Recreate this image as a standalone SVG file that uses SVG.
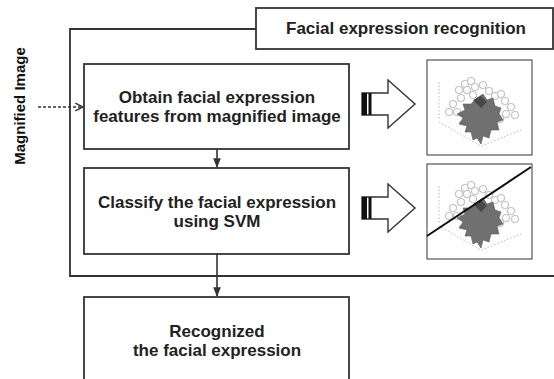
<svg xmlns="http://www.w3.org/2000/svg" width="554" height="379" viewBox="0 0 554 379">
  <style>
    .box { fill: #fff; stroke: #333; stroke-width: 1.8; }
    .frame { fill: none; stroke: #333; stroke-width: 1.8; }
    .lbl { font-family: "Liberation Sans", Arial, sans-serif; font-weight: bold; font-size: 17px; fill: #222; text-anchor: middle; }
    .conn { stroke: #333; stroke-width: 1.6; fill: none; }
    .plot { fill: #fff; stroke: #555; stroke-width: 1.2; }
    .ring { fill: #fff; stroke: #c4c4c4; stroke-width: 1.2; }
    .blob { fill: #707070; stroke: #5a5a5a; stroke-width: 0.6; }
    .tick { stroke: #bbb; stroke-width: 1; stroke-dasharray: 1.5 2; fill: none; }
    .fat { fill: #fff; stroke: #333; stroke-width: 1.4; }
  </style>
  <defs>
    <marker id="tri" viewBox="0 0 10 10" refX="9" refY="5" markerWidth="6" markerHeight="6" orient="auto">
      <path d="M0,1 L10,5 L0,9 Z" fill="#333"/>
    </marker>
    <marker id="open" viewBox="0 0 10 10" refX="9" refY="5" markerWidth="6" markerHeight="6" orient="auto">
      <path d="M1,1 L9,5 L1,9" fill="none" stroke="#333" stroke-width="1.5"/>
    </marker>
    <!-- hollow block arrow with striped tail -->
    <g id="bigArrow">
      <path class="fat" d="M0,-11 L26,-11 L26,-24 L53,0 L26,24 L26,11 L0,11 Z"/>
      <rect x="0" y="-11" width="5" height="22" fill="#111"/>
      <rect x="6.5" y="-11" width="3" height="22" fill="#111"/>
    </g>
    <!-- 3D scatter thumbnail -->
    <g id="scatter">
      <rect class="plot" x="0" y="0" width="105" height="95"/>
      <path class="tick" d="M12,22 L12,60 M12,62 L54,86 M54,86 L94,70"/>
      <g>
        <circle class="ring" cx="32" cy="30" r="3.5"/>
        <circle class="ring" cx="38" cy="24" r="3.5"/>
        <circle class="ring" cx="44" cy="21" r="3.5"/>
        <circle class="ring" cx="40" cy="30" r="3.5"/>
        <circle class="ring" cx="48" cy="27" r="3.5"/>
        <circle class="ring" cx="56" cy="25" r="3.5"/>
        <circle class="ring" cx="62" cy="31" r="3.5"/>
        <circle class="ring" cx="34" cy="38" r="3.5"/>
        <circle class="ring" cx="46" cy="35" r="3.5"/>
        <circle class="ring" cx="26" cy="44" r="3.5"/>
        <circle class="ring" cx="22" cy="52" r="3.5"/>
        <circle class="ring" cx="30" cy="52" r="3.5"/>
        <circle class="ring" cx="68" cy="36" r="3.5"/>
        <circle class="ring" cx="74" cy="34" r="3.5"/>
        <circle class="ring" cx="78" cy="41" r="3.5"/>
        <circle class="ring" cx="84" cy="47" r="3.5"/>
        <circle class="ring" cx="79" cy="54" r="3.5"/>
        <circle class="ring" cx="73" cy="59" r="3.5"/>
        <circle class="ring" cx="88" cy="55" r="3.5"/>
      </g>
      <path class="blob" d="M50,38 L56,34 L60,40 L66,38 L68,46 L74,48 L72,54 L76,60 L70,62 L72,70 L64,70 L62,78 L56,76 L54,84 L50,78 L46,80 L44,72 L38,72 L40,66 L32,64 L36,58 L30,54 L38,50 L36,44 L44,44 Z"/>
      <path d="M46,40 L54,36 L60,42 L54,48 Z" fill="#484848"/>
    </g>
  </defs>

  <!-- outer frame of the recognition stage -->
  <path class="frame" d="M256,29 L70,29 L70,276 L554,276"/>

  <g id="title">
    <rect class="box" x="256" y="8" width="297" height="41"/>
    <text class="lbl" x="406" y="34">Facial expression recognition</text>
  </g>

  <g id="connectors">
    <line class="conn" x1="38" y1="107" x2="83" y2="107" stroke-dasharray="3 2" marker-end="url(#open)"/>
    <line class="conn" x1="217" y1="149" x2="217" y2="167" marker-end="url(#tri)"/>
    <line class="conn" x1="217" y1="254" x2="217" y2="296" marker-end="url(#tri)"/>
  </g>

  <g id="input-label">
    <text class="lbl" transform="translate(25,106) rotate(-90)" style="font-size:15px;fill:#111">Magnified Image</text>
  </g>

  <g id="extract">
    <rect class="box" x="84" y="64" width="265" height="85"/>
    <text class="lbl" x="217" y="102.5">Obtain facial expression</text>
    <text class="lbl" x="217" y="122">features from magnified image</text>
  </g>

  <g id="classify">
    <rect class="box" x="84" y="168" width="265" height="86"/>
    <text class="lbl" x="217" y="207.5">Classify the facial expression</text>
    <text class="lbl" x="217" y="227">using SVM</text>
  </g>

  <g id="result">
    <rect class="box" x="84" y="297" width="265" height="100"/>
    <text class="lbl" x="217" y="336.5">Recognized</text>
    <text class="lbl" x="217" y="356">the facial expression</text>
  </g>

  <g id="features-arrow">
    <use href="#bigArrow" x="362" y="104"/>
  </g>
  <g id="classify-arrow">
    <use href="#bigArrow" x="362" y="208"/>
  </g>

  <g id="features-plot">
    <use href="#scatter" x="427" y="60"/>
  </g>
  <g id="svm-plot">
    <use href="#scatter" x="427" y="164"/>
    <line x1="427" y1="236" x2="531" y2="167" stroke="#111" stroke-width="2"/>
  </g>
</svg>
